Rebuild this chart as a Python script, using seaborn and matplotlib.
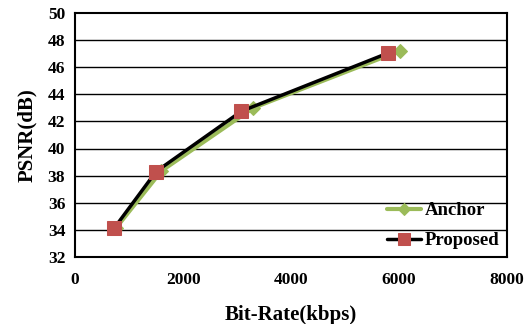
import numpy as np
import pandas as pd
import seaborn as sns
from matplotlib import pyplot as plt

# values
anchor_rate = [760, 1600, 3300, 6010]
anchor_psnr = [34.15, 38.35, 43.0, 47.2]
proposed_rate = [720, 1500, 3080, 5800]
proposed_psnr = [34.1, 38.3, 42.75, 47.05]
x_ticks = [0, 2000, 4000, 6000, 8000]
y_ticks = [32, 34, 36, 38, 40, 42, 44, 46, 48, 50]

df = pd.concat([
    pd.DataFrame({"rate": anchor_rate, "psnr": anchor_psnr, "method": "Anchor"}),
    pd.DataFrame({"rate": proposed_rate, "psnr": proposed_psnr, "method": "Proposed"}),
])

sns.set_style("white")
plt.rcParams['font.family'] = ['Liberation Serif', 'DejaVu Serif']
plt.rcParams['font.weight'] = 'bold'
plt.rcParams['text.color'] = 'black'
plt.rcParams['xtick.color'] = 'black'
plt.rcParams['ytick.color'] = 'black'
plt.rcParams['axes.labelcolor'] = 'black'

fig, ax = plt.subplots(figsize=(5.25, 3.24), dpi=100)
fig.subplots_adjust(left=0.143, right=0.966, top=0.96, bottom=0.207)

for y in y_ticks[1:-1]:
    ax.axhline(y, color="black", lw=1.0, zorder=0)

sns.lineplot(data=df[df.method == "Anchor"], x="rate", y="psnr", ax=ax,
             color="#9BBB59", lw=3, marker="D", markersize=7.5,
             markeredgecolor="#9BBB59", label="Anchor", zorder=2)
sns.lineplot(data=df[df.method == "Proposed"], x="rate", y="psnr", ax=ax,
             color="black", lw=2.5, marker="s", markersize=10,
             markerfacecolor="#C0504D", markeredgecolor="#C0504D",
             label="Proposed", zorder=3)

ax.set_xlim(0, 8000)
ax.set_ylim(32, 50)
ax.set_xticks(x_ticks)
ax.set_yticks(y_ticks)
ax.tick_params(direction="in", length=4, width=1.2, labelsize=12.5, pad=7)
ax.tick_params(axis="x", pad=11)
for lbl in ax.get_xticklabels() + ax.get_yticklabels():
    lbl.set_fontweight("bold")
for s in ax.spines.values():
    s.set_color("black")
    s.set_linewidth(1.5)

ax.set_xlabel("Bit-Rate(kbps)", fontsize=15, fontweight="bold", labelpad=12)
ax.set_ylabel("PSNR(dB)", fontsize=15, fontweight="bold", labelpad=8)

leg = ax.legend(loc="lower right", frameon=False, fontsize=13.5,
                handlelength=1.8, handletextpad=0.2, labelspacing=0.7,
                borderaxespad=0.0, markerscale=0.85)
for t in leg.get_texts():
    t.set_fontweight("bold")

fig.savefig("out.png", dpi=100)
